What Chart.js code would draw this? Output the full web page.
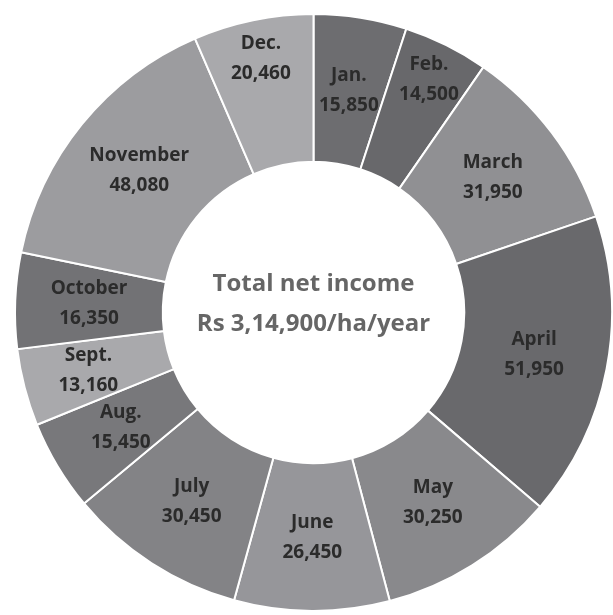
<!DOCTYPE html>
<html lang="en">
<head>
    <meta charset="UTF-8">
    <title>Monthly net income</title>
    <script src="https://cdn.jsdelivr.net/npm/chart.js@4.4.1/dist/chart.umd.min.js"></script>
    <style>
        html, body {
            margin: 0;
            padding: 0;
            background: #ffffff;
        }
        .chart-container {
            width: 613px;
            height: 615px;
        }
    </style>
</head>
<body>
    <div class="chart-container">
        <canvas id="incomeChart"></canvas>
    </div>

    <script>
        const months = ['Jan.', 'Feb.', 'March', 'April', 'May', 'June',
                        'July', 'Aug.', 'Sept.', 'October', 'November', 'Dec.'];
        const netIncome = [15850, 14500, 31950, 51950, 30250, 26450,
                           30450, 15450, 13160, 16350, 48080, 20460];
        const centreLines = ['Total net income', 'Rs 3,14,900/ha/year'];

        const sliceColors = ['#6d6d70', '#68686b', '#909093', '#69696c', '#89898c', '#96969a',
                             '#838386', '#78787b', '#a9a9ac', '#727275', '#9c9c9f', '#a9a9ac'];

        function fmt(v) {
            return v.toString().replace(/\B(?=(\d{3})+(?!\d))/g, ',');
        }

        const sliceLabels = {
            id: 'sliceLabels',
            afterDatasetsDraw(chart, args, opts) {
                const ctx = chart.ctx;
                const meta = chart.getDatasetMeta(0);
                const shift = opts.radialShift || [];
                ctx.save();
                ctx.textAlign = 'center';
                ctx.textBaseline = 'middle';
                ctx.fillStyle = '#2b2b2b';
                ctx.font = 'bold 19px "Open Sans", sans-serif';
                meta.data.forEach((arc, i) => {
                    const mid = (arc.startAngle + arc.endAngle) / 2;
                    const r = (arc.innerRadius + arc.outerRadius) / 2 + (shift[i] || 0);
                    const x = arc.x + Math.cos(mid) * r;
                    const y = arc.y + Math.sin(mid) * r;
                    ctx.fillText(months[i], x, y - 15);
                    ctx.fillText(fmt(netIncome[i]), x, y + 15);
                });

                // centre text
                const cx = meta.data[0].x;
                const cy = meta.data[0].y;
                ctx.fillStyle = '#666666';
                ctx.font = 'bold 24px "Open Sans", sans-serif';
                ctx.fillText(centreLines[0], cx, cy - 28);
                ctx.fillText(centreLines[1], cx, cy + 12);
                ctx.restore();
            }
        };

        const ctx = document.getElementById('incomeChart').getContext('2d');
        new Chart(ctx, {
            type: 'doughnut',
            data: {
                labels: months,
                datasets: [{
                    data: netIncome,
                    backgroundColor: sliceColors,
                    borderColor: '#ffffff',
                    borderWidth: 2
                }]
            },
            options: {
                responsive: true,
                maintainAspectRatio: false,
                animation: false,
                cutout: '50.5%',
                layout: {
                    padding: { left: 14, right: 0, top: 10, bottom: 0 }
                },
                plugins: {
                    legend: { display: false },
                    tooltip: { enabled: false },
                    sliceLabels: {
                        // pushes a few crowded labels outward like the original
                        radialShift: [0, 35, 0, 0, 0, 0, 0, 0, 8, 0, 0, 35]
                    }
                }
            },
            plugins: [sliceLabels]
        });
    </script>
</body>
</html>
